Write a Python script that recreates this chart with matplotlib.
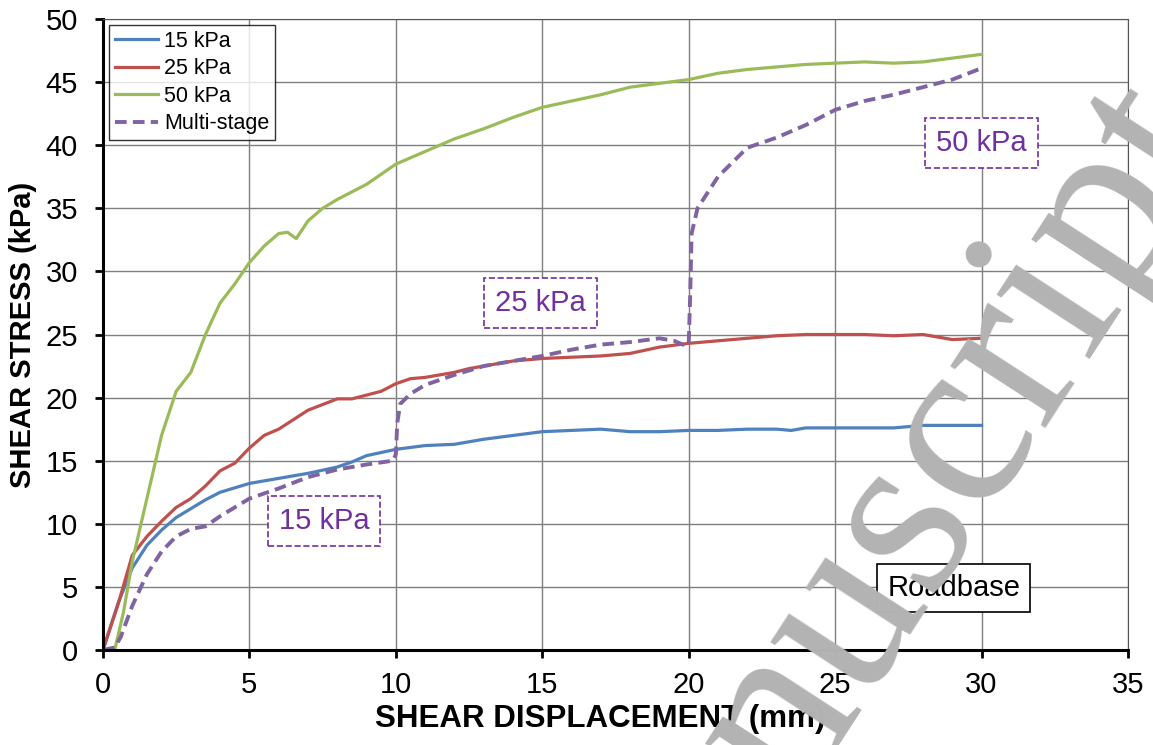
import numpy as np
import matplotlib
matplotlib.use('Agg')
import matplotlib.pyplot as plt

plt.rcParams['font.family'] = ['Liberation Sans', 'DejaVu Sans']

# data
x15 = [0, 0.5, 1, 1.5, 2, 2.5, 3, 3.5, 4, 5, 6, 7, 8, 8.5, 9, 10, 11, 12, 13, 14, 15, 16, 17,
       18, 19, 20, 21, 22, 23, 23.5, 24, 25, 26, 27, 28, 29, 30]
y15 = [0, 3.6, 6.5, 8.3, 9.5, 10.5, 11.2, 11.9, 12.5, 13.2, 13.6, 14.0, 14.5, 14.9, 15.4, 15.9,
       16.2, 16.3, 16.7, 17.0, 17.3, 17.4, 17.5, 17.3, 17.3, 17.4, 17.4, 17.5, 17.5, 17.4, 17.6,
       17.6, 17.6, 17.6, 17.8, 17.8, 17.8]

x25 = [0, 0.5, 1, 1.5, 2, 2.5, 3, 3.5, 4, 4.5, 5, 5.5, 6, 7, 8, 8.5, 9, 9.5, 10, 10.5, 11, 12,
       12.5, 13, 14, 15, 16, 17, 18, 19, 20, 21, 22, 23, 24, 25, 26, 27, 28, 29, 30]
y25 = [0, 3.5, 7.5, 9.0, 10.2, 11.3, 12.0, 13.0, 14.2, 14.8, 16.0, 17.0, 17.5, 19.0, 19.9, 19.9,
       20.2, 20.5, 21.1, 21.5, 21.6, 22.0, 22.3, 22.5, 22.9, 23.1, 23.2, 23.3, 23.5, 24.0, 24.3,
       24.5, 24.7, 24.9, 25.0, 25.0, 25.0, 24.9, 25.0, 24.6, 24.7]

x50 = [0.4, 0.7, 1, 1.5, 2, 2.5, 3, 3.5, 4, 4.5, 5, 5.5, 6, 6.3, 6.6, 7, 7.5, 8, 9, 10, 11, 12,
       13, 14, 15, 16, 17, 18, 19, 20, 21, 22, 23, 24, 25, 26, 27, 28, 29, 30]
y50 = [0, 3.0, 7.0, 12.0, 17.0, 20.5, 22.0, 25.0, 27.5, 29.0, 30.7, 32.0, 33.0, 33.1, 32.6, 34.0,
       35.0, 35.7, 36.9, 38.5, 39.5, 40.5, 41.3, 42.2, 43.0, 43.5, 44.0, 44.6, 44.9, 45.2, 45.7,
       46.0, 46.2, 46.4, 46.5, 46.6, 46.5, 46.6, 46.9, 47.2]

xms = [0, 0.4, 0.6, 1, 1.5, 2, 2.5, 3, 3.5, 4, 5, 6, 7, 8, 9, 9.9, 10.0, 10.05, 10.15, 10.5, 11,
       12, 13, 14, 15, 16, 17, 18, 19, 19.5, 19.8, 20.0, 20.05, 20.1, 20.3, 21, 22, 23, 24, 25,
       26, 27, 28, 29, 30]
yms = [0, 0.2, 1.0, 3.5, 6.0, 7.8, 9.0, 9.6, 9.8, 10.6, 12.0, 12.8, 13.7, 14.3, 14.7, 15.0, 15.5,
       18.0, 19.5, 20.3, 21.0, 21.8, 22.5, 22.9, 23.3, 23.8, 24.2, 24.4, 24.7, 24.5, 24.2, 24.2,
       28.0, 33.0, 35.0, 37.5, 39.8, 40.6, 41.6, 42.8, 43.5, 44.0, 44.6, 45.2, 46.1]

fig = plt.figure(figsize=(11.53, 7.45), dpi=100)
ax = fig.add_axes([0.0893, 0.1275, 0.889, 0.847])

ax.plot(x15, y15, color='#4F81BD', lw=2.3, label='15 kPa')
ax.plot(x25, y25, color='#C0504D', lw=2.3, label='25 kPa')
ax.plot(x50, y50, color='#9BBB59', lw=2.3, label='50 kPa')
ax.plot(xms, yms, color='#8064A2', lw=2.8, ls=(0, (3, 1.6)), label='Multi-stage')

ax.set_xlim(0, 35)
ax.set_ylim(0, 50)
ax.set_xticks(np.arange(0, 36, 5))
ax.set_yticks(np.arange(0, 51, 5))
ax.grid(True, color='#7f7f7f', lw=1)
ax.set_axisbelow(True)
ax.tick_params(direction='out', length=6, width=2, labelsize=21)
ax.tick_params(axis='x', pad=9)
ax.tick_params(axis='y', pad=12)
ax.spines['left'].set_linewidth(2.2)
ax.spines['bottom'].set_linewidth(2.2)
ax.spines['top'].set_color('#555555')
ax.spines['right'].set_color('#555555')

ax.set_xlabel('SHEAR DISPLACEMENT (mm)', fontsize=22.5, fontweight='bold', labelpad=4)
ax.xaxis.set_label_coords(0.485, -0.085)
ax.set_ylabel('SHEAR STRESS (kPa)', fontsize=21, fontweight='bold', labelpad=6)

leg = ax.legend(loc='upper left', fontsize=15.5, frameon=True, fancybox=False,
                edgecolor='black', borderaxespad=0.3, handlelength=2.0,
                borderpad=0.25, labelspacing=0.3, handletextpad=0.3)
leg.get_frame().set_linewidth(1)

box = dict(boxstyle='square,pad=0.38', fc='white', ec='#7030A0', ls='--', lw=1.2)
ax.text(7.55, 10.2, '15 kPa', fontsize=21, color='#7030A0', ha='center', va='center', bbox=box)
ax.text(14.95, 27.5, '25 kPa', fontsize=21, color='#7030A0', ha='center', va='center', bbox=box)
ax.text(30.0, 40.2, '50 kPa', fontsize=21, color='#7030A0', ha='center', va='center', bbox=box)
ax.text(29.05, 4.9, 'Roadbase', fontsize=21, color='black', ha='center', va='center',
        bbox=dict(boxstyle='square,pad=0.35', fc='white', ec='black', lw=1.2))

# watermark
fig.text(0.756, 0.228, 'Manuscript', fontsize=177, family='Liberation Serif', color='#b3b3b3',
         rotation=57, ha='center', va='center', rotation_mode='anchor', zorder=10)

fig.savefig('out.png', dpi=100)
